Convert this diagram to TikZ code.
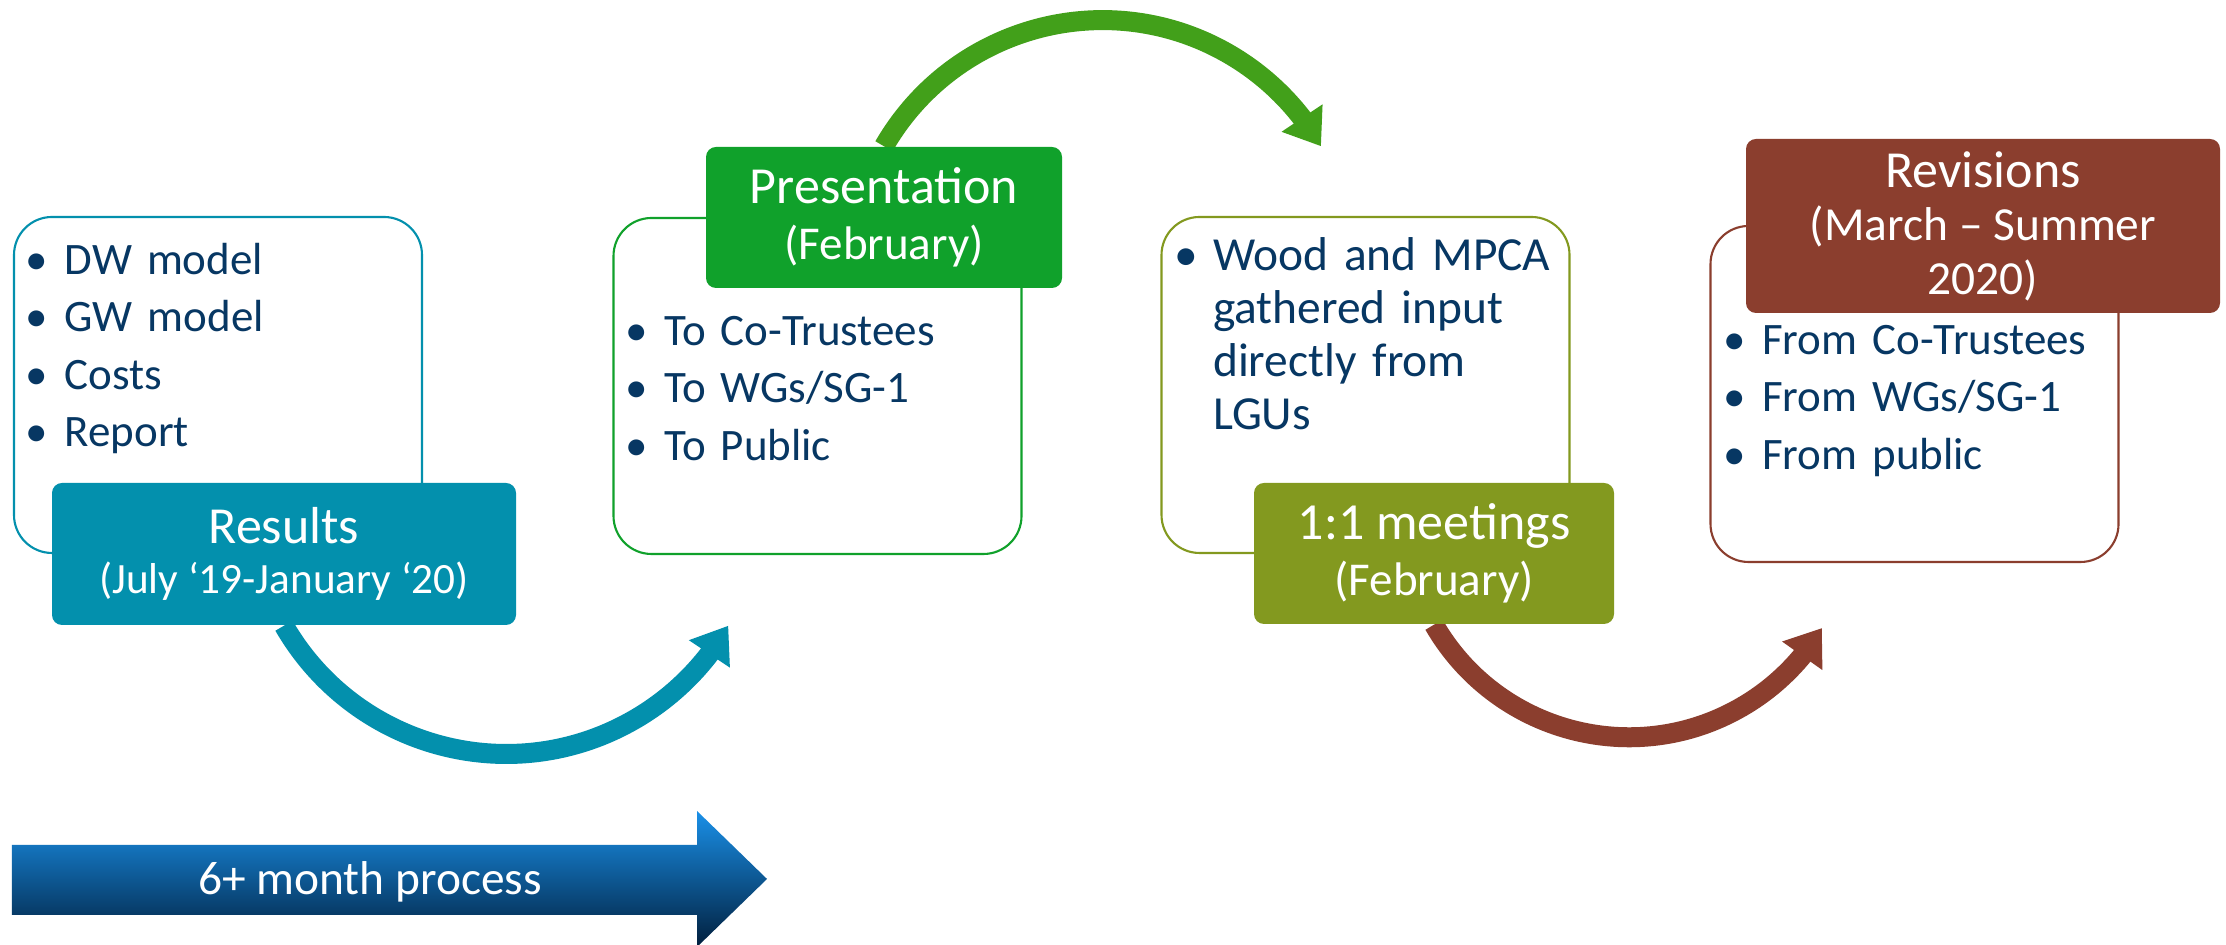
\documentclass[tikz,border=0pt]{standalone}
\usepackage{fontspec}
\setmainfont{Carlito}
\usetikzlibrary{arrows.meta,bending,positioning,backgrounds}

\definecolor{tealc}{HTML}{0390AD}
\definecolor{greenc}{HTML}{10A12B}
\definecolor{greenarc}{HTML}{42A01A}
\definecolor{olivec}{HTML}{83991F}
\definecolor{brownc}{HTML}{8B3E2E}
\definecolor{navyc}{HTML}{073763}
\definecolor{arrowtop}{HTML}{1A90E8}
\definecolor{arrowmid}{HTML}{04529B}
\definecolor{arrowbot}{HTML}{011F3D}

\newcommand{\itm}[1]{\par\noindent\makebox[0.39cm][l]{\textbullet}\parbox[t]{3.5cm}{\raggedright\rule{0pt}{11pt}#1}}

\begin{document}
\begin{tikzpicture}[
    listbox/.style={draw, line width=0.6pt, rounded corners=0.38cm, minimum width=4.08cm, minimum height=3.36cm, inner sep=0pt},
    headbox/.style={rounded corners=0.1cm, text=white, align=center, inner sep=0pt},
    itemlist/.style={text=navyc, text width=3.9cm, align=left, inner sep=0pt, font=\fontsize{12.8}{15.1}\selectfont\setlength{\parskip}{0.045cm}},
    bow/.style={line width=0.2cm, -{Triangle[length=0.34cm,width=0.47cm]}}
  ]

    \useasboundingbox (0,0) rectangle (22.26,9.45);

    \node[listbox, draw=tealc] (dwbox) at (2.18,5.60) {};
    \node[listbox, draw=greenc] (tobox) at (8.175,5.59) {};
    \node[listbox, draw=olivec] (woodbox) at (13.655,5.60) {};
    \node[listbox, draw=brownc] (frombox) at (19.145,5.51) {};

    \node[itemlist, below right=0cm and 0.12cm of dwbox.north west] (dwlist) {\itm{DW model}\itm{GW model}\itm{Costs}\itm{Report}};
    \node[itemlist, below right=0.70cm and 0.12cm of tobox.north west] (tolist) {\itm{To Co-Trustees}\itm{To WGs/SG-1}\itm{To Public}};
    \node[itemlist, font=\fontsize{13.5}{15.1}\selectfont, below right=0.01cm and 0.13cm of woodbox.north west] (woodlist) {\itm{Wood and MPCA\\gathered input\\directly from\\LGUs}};
    \node[itemlist, below right=0.71cm and 0.13cm of frombox.north west] (fromlist) {\itm{From Co-Trustees}\itm{From WGs/SG-1}\itm{From public}};

    \node[headbox, fill=tealc, minimum width=4.64cm, minimum height=1.42cm, font=\fontsize{12.3}{14.2}\selectfont] (results) at (2.84,3.91) {{\fontsize{14.8}{14.2}\selectfont Results}\\(July ‘19-January ‘20)};
    \node[headbox, fill=greenc, minimum width=3.56cm, minimum height=1.41cm, font=\fontsize{13.4}{15.8}\selectfont] (present) at (8.84,7.275) {{\fontsize{14.8}{15.8}\selectfont Presentation}\\(February)};
    \node[headbox, fill=olivec, minimum width=3.60cm, minimum height=1.41cm, font=\fontsize{13.4}{15.8}\selectfont] (meet) at (14.34,3.915) {{\fontsize{14.8}{15.8}\selectfont 1:1 meetings}\\(February)};
    \node[headbox, fill=brownc, minimum width=4.74cm, minimum height=1.74cm, font=\fontsize{13.5}{15.2}\selectfont] (revise) at (19.83,7.19) {{\fontsize{14.8}{15.2}\selectfont Revisions}\\(March – Summer\\2020)};

    \begin{scope}[on background layer]
    \fill[white] (0,0) rectangle (22.26,9.45);
    \draw[bow, tealc] (results.south) arc[start angle=210, end angle=330, radius=2.565];
    \draw[bow, greenarc] (present.north) arc[start angle=150, end angle=30, radius=2.523];
    \draw[bow, brownc] (meet.south) arc[start angle=210, end angle=329, radius=2.251];
    \end{scope}

    \shade[top color=arrowtop, middle color=arrowmid, bottom color=arrowbot] (0.12,0.30) -- (6.97,0.30) -- (6.97,-0.02) -- (7.67,0.66) -- (6.97,1.34) -- (6.97,1.00) -- (0.12,1.00) -- cycle;
    \node[anchor=base, text=white, font=\fontsize{13.5}{15}\selectfont] (proc) at (3.70,0.50) {6+ month process};
  \end{tikzpicture}
\end{document}
